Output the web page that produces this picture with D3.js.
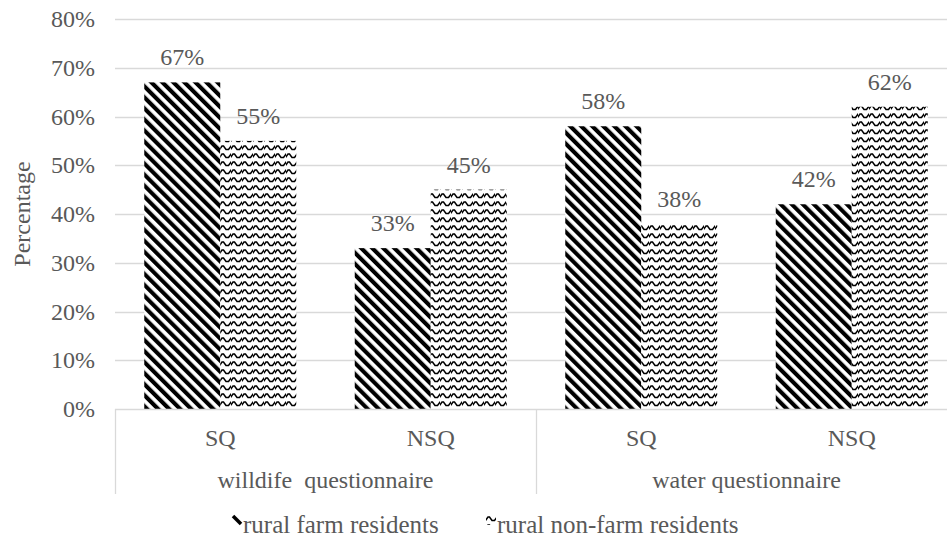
<!DOCTYPE html>
<html>
<head>
<meta charset="utf-8">
<script src="https://cdn.jsdelivr.net/npm/d3@7/dist/d3.min.js"></script>
<style>
  html, body { margin: 0; padding: 0; background: #fff; }
  svg text { font-family: "Liberation Serif", "Times New Roman", serif; fill: #595959; }
</style>
</head>
<body>
<svg id="chart" width="947" height="541"></svg>
<script>
// Survey results: share of respondents per questionnaire and response type
const groups = ["willdife  questionnaire", "water questionnaire"];
const subCategories = ["SQ", "NSQ"];
const seriesNames = ["rural farm residents", "rural non-farm residents"];
const farmValues = [67, 33, 58, 42];
const nonFarmValues = [55, 45, 38, 62];
const yTicks = [0, 10, 20, 30, 40, 50, 60, 70, 80];

const svg = d3.select("#chart");
const margin = { left: 115, right: 957, top: 19, bottom: 409 };
const gridColor = "#d9d9d9";
const fontSize = 24;

// Fill patterns: wide downward diagonal and wave
const defs = svg.append("defs");
const stripe = defs.append("pattern")
  .attr("id", "diag")
  .attr("patternUnits", "userSpaceOnUse")
  .attr("width", 7.8).attr("height", 7.8)
  .attr("patternTransform", "rotate(-45)");
stripe.append("rect").attr("width", 7.8).attr("height", 7.8).attr("fill", "#fff");
stripe.append("rect").attr("width", 4.1).attr("height", 7.8).attr("fill", "#000");

const wave = defs.append("pattern")
  .attr("id", "wave")
  .attr("patternUnits", "userSpaceOnUse")
  .attr("width", 11).attr("height", 8);
wave.append("rect").attr("width", 11).attr("height", 8).attr("fill", "#fff");
wave.append("path")
  .attr("d", "M-0.5,5.5 L2,2 L3.5,2 L6,5.5 L8.5,5.5 L11.5,1.5")
  .attr("fill", "none").attr("stroke", "#000").attr("stroke-width", 1.5);

// Flat list of bar categories
const cats = [];
groups.forEach((g, gi) => subCategories.forEach((s, si) => cats.push({ group: g, sub: s, idx: gi * subCategories.length + si })));

const y = d3.scaleLinear().domain([0, 80]).range([margin.bottom, margin.top]);
const x0 = d3.scaleBand().domain(cats.map(c => c.idx)).range([margin.left, margin.right])
  .paddingInner(0.278).paddingOuter(0.139);
const x1 = d3.scaleBand().domain(seriesNames).range([0, x0.bandwidth()]);
const xg = d3.scaleBand().domain(groups).range([margin.left, margin.right]);

// Gridlines
svg.append("g").selectAll("line").data(yTicks.filter(t => t > 0)).join("line")
  .attr("x1", margin.left).attr("x2", margin.right)
  .attr("y1", d => Math.round(y(d)) + 0.5).attr("y2", d => Math.round(y(d)) + 0.5)
  .attr("stroke", gridColor).attr("stroke-width", 1.3);

// Y tick labels
svg.append("g").selectAll("text").data(yTicks).join("text")
  .attr("x", 95).attr("y", d => y(d) + 8)
  .attr("text-anchor", "end").attr("font-size", fontSize)
  .text(d => d + "%");

// Y axis title
svg.append("text")
  .attr("transform", `translate(30, ${(margin.top + margin.bottom) / 2}) rotate(-90)`)
  .attr("text-anchor", "middle").attr("font-size", fontSize)
  .text("Percentage");

// Bars with value labels
const seriesData = [
  { name: seriesNames[0], values: farmValues, fill: "url(#diag)" },
  { name: seriesNames[1], values: nonFarmValues, fill: "url(#wave)" }
];
const barLayer = svg.append("g");
seriesData.forEach(s => {
  barLayer.append("g").selectAll("rect").data(cats).join("rect")
    .attr("x", c => x0(c.idx) + x1(s.name))
    .attr("width", x1.bandwidth())
    .attr("y", c => y(s.values[c.idx]))
    .attr("height", c => y(0) - y(s.values[c.idx]))
    .attr("fill", s.fill);
  barLayer.append("g").selectAll("text").data(cats).join("text")
    .attr("x", c => x0(c.idx) + x1(s.name) + x1.bandwidth() / 2)
    .attr("y", c => y(s.values[c.idx]) - 17)
    .attr("text-anchor", "middle").attr("font-size", fontSize)
    .text(c => s.values[c.idx] + "%");
});

// Category axis (two levels)
const axis = svg.append("g");
axis.append("line")
  .attr("x1", margin.left).attr("x2", margin.right)
  .attr("y1", margin.bottom + 0.5).attr("y2", margin.bottom + 0.5)
  .attr("stroke", gridColor).attr("stroke-width", 1.3);
const dividers = groups.map(g => xg(g)).concat([margin.right]);
axis.selectAll("line.div").data(dividers).join("line").attr("class", "div")
  .attr("x1", d => Math.round(d) + 0.5).attr("x2", d => Math.round(d) + 0.5)
  .attr("y1", margin.bottom).attr("y2", 494)
  .attr("stroke", gridColor).attr("stroke-width", 1.3);
axis.selectAll("text.sub").data(cats).join("text").attr("class", "sub")
  .attr("x", c => x0(c.idx) + x0.bandwidth() / 2).attr("y", 446)
  .attr("text-anchor", "middle").attr("font-size", fontSize)
  .text(c => c.sub);
axis.selectAll("text.grp").data(groups).join("text").attr("class", "grp")
  .attr("x", g => xg(g) + xg.bandwidth() / 2).attr("y", 488)
  .attr("text-anchor", "middle").attr("font-size", fontSize)
  .style("white-space", "pre")
  .text(g => g);

// Legend
const legend = svg.append("g");
const legendX = [232, 486];
seriesData.forEach((s, i) => {
  const lg = legend.append("g").attr("transform", `translate(${legendX[i]}, 515)`);
  if (i === 0) {
    lg.append("path").attr("d", "M1,1 L9,9").attr("stroke", "#000").attr("stroke-width", 3.5);
  } else {
    lg.append("rect").attr("x", 0).attr("y", 0).attr("width", 10).attr("height", 10).attr("fill", s.fill);
  }
  lg.append("text").attr("x", 11).attr("y", 18).attr("font-size", 25).text(s.name);
});
</script>
</body>
</html>
